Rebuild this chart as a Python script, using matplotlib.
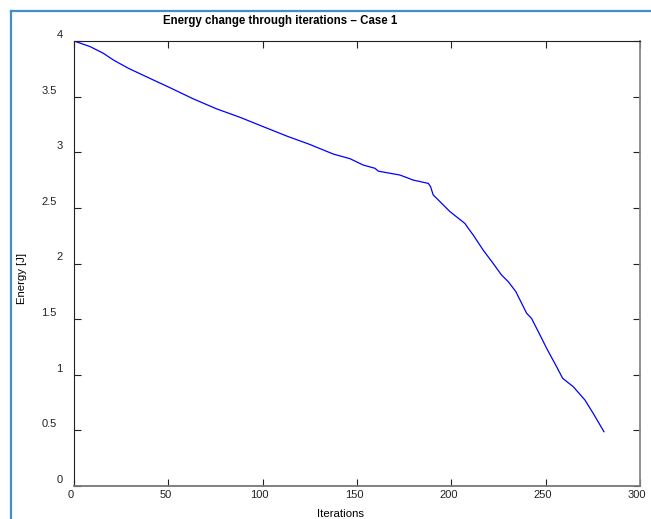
import matplotlib
matplotlib.use("Agg")
import matplotlib.pyplot as plt
import matplotlib.transforms as mtransforms
from matplotlib.lines import Line2D

plt.rcParams['font.family'] = ['Liberation Sans', 'DejaVu Sans']

# energy values
iterations = [0, 8.5, 15.5, 20.8, 28.8, 42, 50.9, 63.2, 75.6, 88, 100.3, 112.7,
              125, 137.4, 146.3, 153.3, 159.5, 161.3, 172.8, 179.8, 187.8, 189,
              190.4, 192.2, 197.5, 199.3, 207.2, 209, 211.6, 215.1, 216.9, 222.2,
              226.6, 230.2, 234.2, 239.9, 242.5, 247, 250.5, 255.8, 259, 264.6,
              270.8, 275.2, 280.9]
energy = [4.0, 3.95, 3.89, 3.83, 3.755, 3.65, 3.58, 3.48, 3.39, 3.314, 3.23, 3.146,
          3.07, 2.984, 2.942, 2.885, 2.856, 2.83, 2.795, 2.75, 2.72, 2.69,
          2.616, 2.586, 2.496, 2.466, 2.36, 2.316, 2.256, 2.166, 2.12, 2.0,
          1.897, 1.836, 1.747, 1.553, 1.507, 1.357, 1.238, 1.072, 0.968, 0.893,
          0.773, 0.653, 0.488]

x_ticks = [0, 50, 100, 150, 200, 250, 300]
y_ticks = [0, 0.5, 1, 1.5, 2, 2.5, 3, 3.5, 4]
y_labels = ["0", "0.5", "1", "1.5", "2", "2.5", "3", "3.5", "4"]

W, H = 651, 519
fig = plt.figure(figsize=(W / 100, H / 100), dpi=100)
ax = fig.add_axes([74 / W, 1 - 486 / H, (640 - 74) / W, (486 - 41) / H])

ax.plot(iterations, energy, color="#0000ff", lw=0.9)

ax.set_xlim(0, 300)
ax.set_ylim(0, 4)
ax.set_xticks(x_ticks)
ax.set_yticks(y_ticks)
ax.set_yticklabels(y_labels)
ax.tick_params(direction="in", length=5, width=0.8, labelsize=8,
               colors="#222222", top=True, right=True)
ax.tick_params(axis="y", pad=14)
ax.tick_params(axis="x", pad=3)

# MATLAB-style labels sit a bit off their ticks
for lab in ax.get_yticklabels():
    dx = 8 if "." not in lab.get_text() else 2
    off = mtransforms.ScaledTranslation(dx / 100, 7 / 100, fig.dpi_scale_trans)
    lab.set_transform(lab.get_transform() + off)
x_off = mtransforms.ScaledTranslation(-3 / 100, 0, fig.dpi_scale_trans)
for lab in ax.get_xticklabels():
    lab.set_transform(lab.get_transform() + x_off)

ax.spines["left"].set_color("#222222")
ax.spines["top"].set_color("#222222")
ax.spines["bottom"].set_color("#777777")
ax.spines["right"].set_color("#888888")
ax.spines["bottom"].set_linewidth(1.3)
ax.spines["right"].set_linewidth(1.3)

ax.set_xlabel("Iterations", fontsize=8.2)
ax.set_ylabel("Energy [J]", fontsize=8.2)
ax.xaxis.set_label_coords((341 - 74) / 566, (486 - 514) / 445)
ax.yaxis.set_label_coords((22 - 74) / 566, (486 - 279) / 445)
ax.xaxis.label.set_va("center")
ax.yaxis.label.set_va("center")

fig.text(280 / W, 1 - 21 / H, "Energy change through iterations – Case 1",
         ha="center", va="center", fontsize=8.3, fontweight="bold")

# blue frame around figure (top and left visible)
fig.add_artist(Line2D([10.5 / W, 1], [1 - 11 / H, 1 - 11 / H], color="#3d8fd0",
                      lw=1.6, transform=fig.transFigure))
fig.add_artist(Line2D([11 / W, 11 / W], [0, 1 - 11 / H], color="#3d8fd0",
                      lw=1.6, transform=fig.transFigure))

fig.savefig("out.png", dpi=100)
